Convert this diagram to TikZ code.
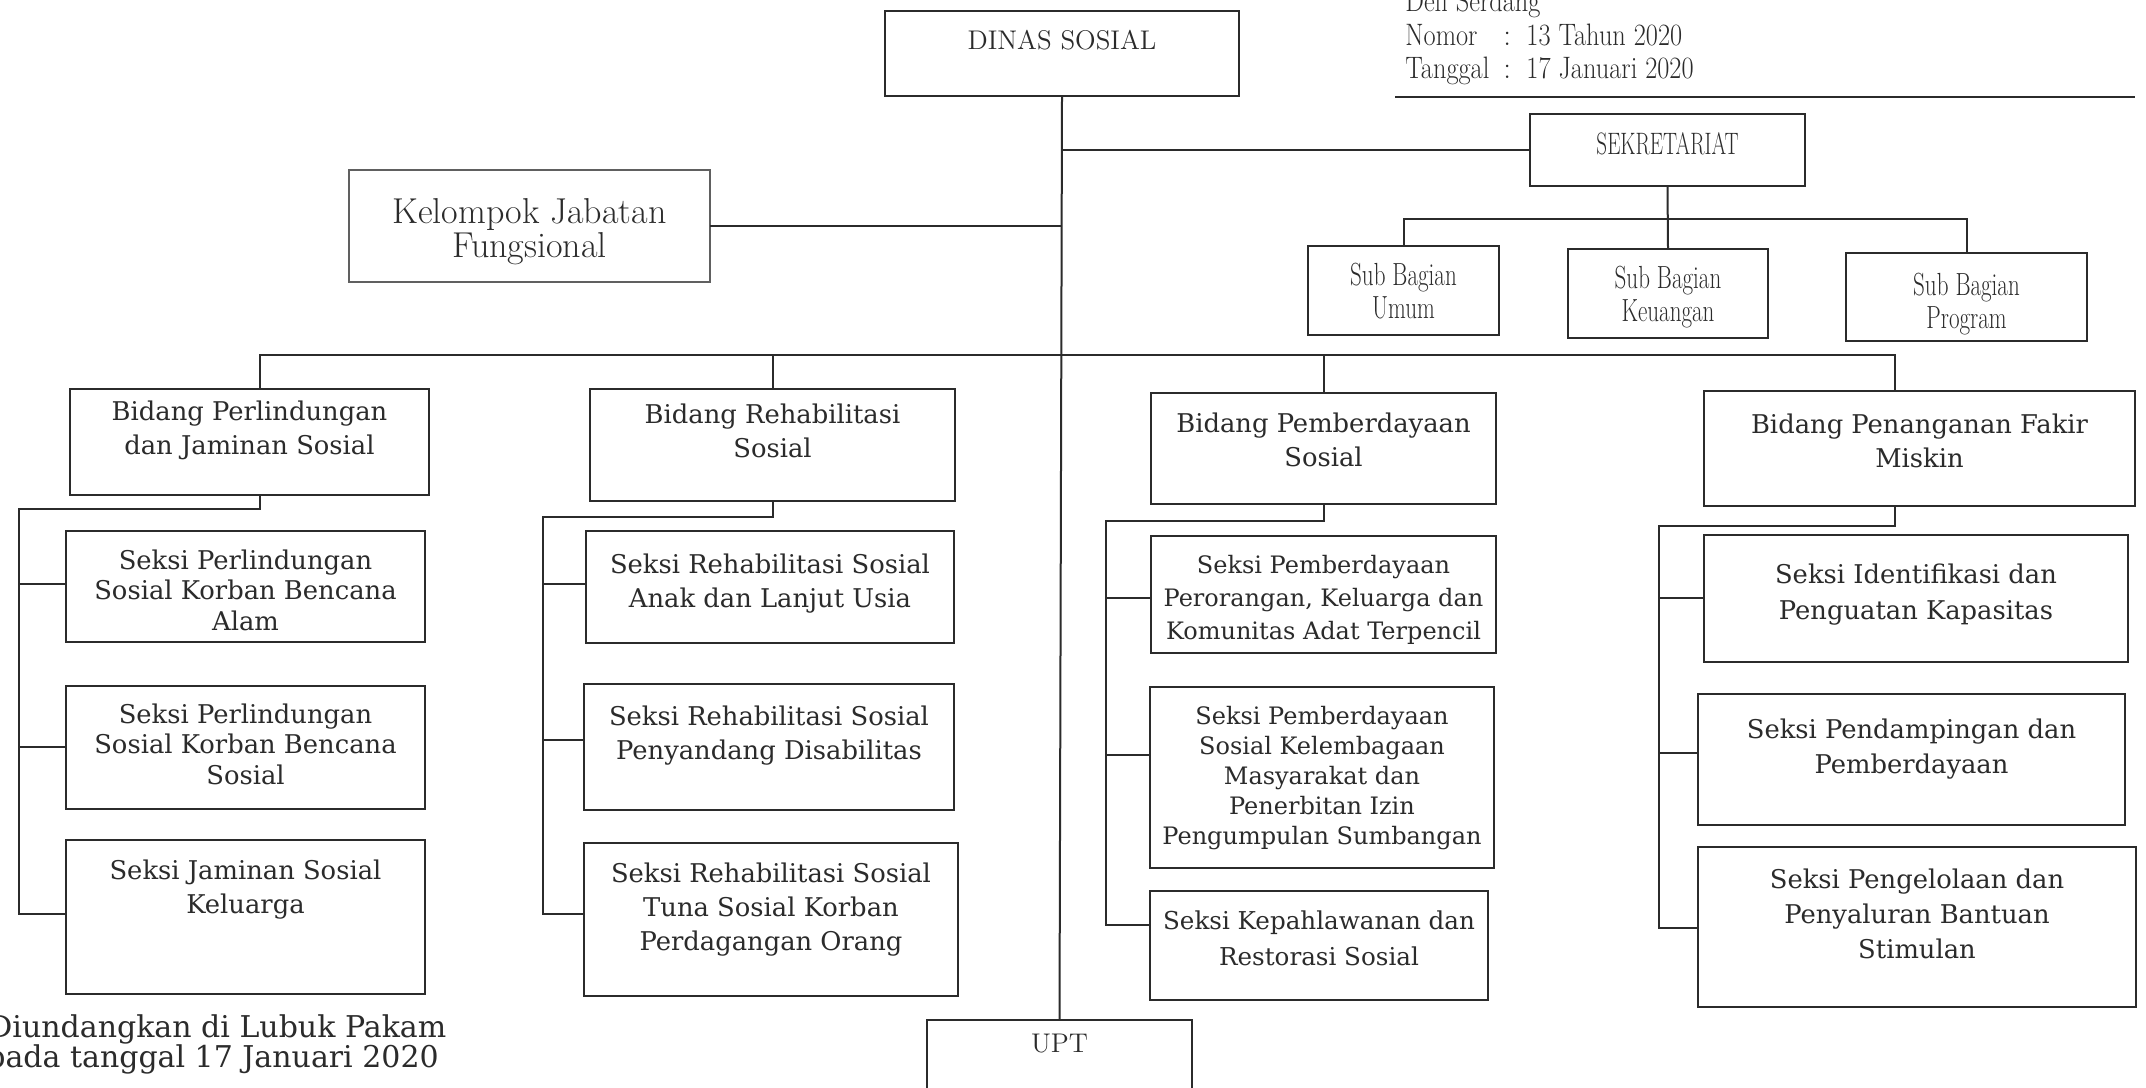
\documentclass[tikz,border=0pt]{standalone}
\usepackage{fontspec}
\usepackage{graphicx}
\newfontfamily\bk{DejaVu Serif}
\definecolor{ink}{HTML}{2B2B2B}
\tikzset{
 box/.style={draw=ink, line width=1.3pt, inner sep=0pt, outer sep=0pt},
 thinbox/.style={box, draw=ink!75, line width=0.8pt},
 ln/.style={draw=ink, line width=1pt},
 bktxt/.style={text=ink, align=center, inner sep=0pt, font=\bk\fontsize{12.9}{17}\selectfont},
 bksm/.style={bktxt, font=\bk\fontsize{12}{16.5}\selectfont},
 cetxt/.style={text=ink, align=center, inner sep=0pt, font=\fontsize{14}{17}\selectfont},
}
\newcommand\nr[1]{\scalebox{0.72}[1]{#1}}
\newcommand\hd[1]{\scalebox{0.85}[1]{#1}}
\newcommand\bx[9][bktxt]{%
  \pgfmathsetmacro\bw{(#5-#3)*0.5}%
  \pgfmathsetmacro\bh{(#6-#4)*0.5}%
  \node[#9, minimum width=\bw pt, minimum height=\bh pt, anchor=north west] (#2) at (#3,#4) {};
  \node[#1, anchor=north] (#2-t) at ([yshift=-#7*0.5pt]#2.north) {#8};
}
\begin{document}
\begin{tikzpicture}[x=0.5pt,y=-0.5pt]
\fill[white] (0,0) rectangle (2146,1087);
\useasboundingbox (0,0) rectangle (2146,1087);

% top boxes
\bx[cetxt, font=\fontsize{13.5}{17}\selectfont]{dinas}{885}{11}{1239}{96}{19}{DINAS SOSIAL}{box}
\bx[cetxt, font=\fontsize{15.5}{17}\selectfont]{sekr}{1530}{114}{1805}{186}{18}{\scalebox{0.68}[1]{SEKRETARIAT}}{box}
\bx[cetxt, font=\fontsize{18}{17}\selectfont]{kjf}{349}{170}{710}{282}{28}{Kelompok Jabatan\\Fungsional}{thinbox}
\bx[cetxt, font=\fontsize{16}{16.5}\selectfont]{umum}{1308}{246}{1499}{335}{17}{\nr{Sub Bagian}\\\nr{Umum}}{box}
\bx[cetxt, font=\fontsize{16}{16.5}\selectfont]{keu}{1568}{249}{1768}{338}{17}{\nr{Sub Bagian}\\\nr{Keuangan}}{box}
\bx[cetxt, font=\fontsize{16}{16.5}\selectfont]{prog}{1846}{253}{2087}{341}{20}{\nr{Sub Bagian}\\\nr{Program}}{box}

% bidang
\bx{b1}{70}{389}{429}{495}{11}{Bidang Perlindungan\\dan Jaminan Sosial}{box}
\bx{b2}{590}{389}{955}{501}{14}{Bidang Rehabilitasi\\Sosial}{box}
\bx{b3}{1151}{393}{1496}{504}{19}{Bidang Pemberdayaan\\Sosial}{box}
\bx{b4}{1704}{391}{2135}{506}{22}{Bidang Penanganan Fakir\\Miskin}{box}

% seksi col 1
\bx[bktxt, font=\bk\fontsize{12.9}{15.3}\selectfont]{s11}{66}{531}{425}{642}{18}{Seksi Perlindungan\\Sosial Korban Bencana\\Alam}{box}
\bx[bktxt, font=\bk\fontsize{12.9}{15.3}\selectfont]{s12}{66}{686}{425}{809}{17}{Seksi Perlindungan\\Sosial Korban Bencana\\Sosial}{box}
\bx{s13}{66}{840}{425}{994}{19}{Seksi Jaminan Sosial\\Keluarga}{box}
% col 2
\bx{s21}{586}{531}{954}{643}{22}{Seksi Rehabilitasi Sosial\\Anak dan Lanjut Usia}{box}
\bx{s22}{584}{684}{954}{810}{21}{Seksi Rehabilitasi Sosial\\Penyandang Disabilitas}{box}
\bx{s23}{584}{843}{958}{996}{19}{Seksi Rehabilitasi Sosial\\Tuna Sosial Korban\\Perdagangan Orang}{box}
% col 3
\bx[bksm]{s31}{1151}{536}{1496}{653}{19}{Seksi Pemberdayaan\\Perorangan, Keluarga dan\\Komunitas Adat Terpencil}{box}
\bx[bksm, font=\bk\fontsize{12}{15}\selectfont]{s32}{1150}{687}{1494}{868}{19}{Seksi Pemberdayaan\\Sosial Kelembagaan\\Masyarakat dan\\Penerbitan Izin\\Pengumpulan Sumbangan}{box}
\bx[bksm, font=\bk\fontsize{12.3}{18}\selectfont]{s33}{1150}{891}{1488}{1000}{19}{Seksi Kepahlawanan dan\\Restorasi Sosial}{box}
% col 4
\bx[bktxt, font=\bk\fontsize{12.9}{18}\selectfont]{s41}{1704}{535}{2128}{662}{28}{Seksi Identifikasi dan\\Penguatan Kapasitas}{box}
\bx[bktxt, font=\bk\fontsize{12.9}{17.5}\selectfont]{s42}{1698}{694}{2125}{825}{24}{Seksi Pendampingan dan\\Pemberdayaan}{box}
\bx[bktxt, font=\bk\fontsize{12.9}{17.5}\selectfont]{s43}{1698}{847}{2136}{1007}{21}{Seksi Pengelolaan dan\\Penyaluran Bantuan\\Stimulan}{box}

% UPT
\bx[cetxt, font=\fontsize{13.5}{15}\selectfont]{upt}{927}{1020}{1192}{1092}{14}{UPT}{box}

% header text top right
\tikzset{hdtxt/.style={cetxt, font=\fontsize{15.5}{17}\selectfont, anchor=base west}}
\node[hdtxt] (deli) at (1405,11) {\hd{Deli Serdang}};
\node[hdtxt] (nomor) at (1405,45) {\hd{Nomor}};
\node[hdtxt] (nomc) at (1503,45) {:};
\node[hdtxt] (nomv) at (1526,45) {\hd{13 Tahun 2020}};
\node[hdtxt] (tgl) at (1405,78) {\hd{Tanggal}};
\node[hdtxt] (tglc) at (1503,78) {:};
\node[hdtxt] (tglv) at (1526,78) {\hd{17 Januari 2020}};
\coordinate (rulea) at (1395,97);
\coordinate (ruleb) at (2135,97);
\draw[ln] (rulea) -- (ruleb);

% bottom-left text
\node[bktxt, font=\bk\fontsize{15}{17}\selectfont, anchor=base west] (und1) at (-12,1037) {Diundangkan di Lubuk Pakam};
\node[bktxt, font=\bk\fontsize{15}{17}\selectfont, anchor=base west] (und2) at (-14,1067) {pada tanggal 17 Januari 2020};

% connectors
\draw[ln] (dinas.south) -- (upt.north);
\draw[ln] (sekr.west) -- (sekr.west -| dinas.south);
\draw[ln] (kjf.east) -- (kjf.east -| dinas.south);
\draw[ln] (sekr.south) -- (keu.north);
\coordinate (sbar) at (1400,219);
\draw[ln] (umum.north) -- (umum.north |- sbar) -- (prog.north |- sbar) -- (prog.north);

\coordinate (bbar) at (1000,355);
\coordinate (b1in) at (260,389);
\coordinate (b1out) at (260,495);
\coordinate (b4in) at (1895,391);
\coordinate (b4out) at (1895,506);
\draw[ln] (b1in) -- (b1in |- bbar) -- (b4in |- bbar) -- (b4in);
\draw[ln] (b2.north) -- (b2.north |- bbar);
\draw[ln] (b3.north) -- (b3.north |- bbar);

% column brackets
\coordinate (c1) at (19,509);
\coordinate (c2) at (543,517);
\coordinate (c3) at (1106,521);
\coordinate (c4) at (1659,526);
\coordinate (t11) at (19,584);
\coordinate (t12) at (19,747);
\coordinate (t13) at (19,914);
\coordinate (t21) at (543,584);
\coordinate (t22) at (543,740);
\coordinate (t23) at (543,914);
\coordinate (t31) at (1106,598);
\coordinate (t32) at (1106,755);
\coordinate (t33) at (1106,925);
\coordinate (t41) at (1659,598);
\coordinate (t42) at (1659,753);
\coordinate (t43) at (1659,928);

\draw[ln] (b1out) |- (c1) -- (t13) -- (t13 -| s13.west);
\draw[ln] (t11) -- (t11 -| s11.west);
\draw[ln] (t12) -- (t12 -| s12.west);
\draw[ln] (b2.south) |- (c2) -- (t23) -- (t23 -| s23.west);
\draw[ln] (t21) -- (t21 -| s21.west);
\draw[ln] (t22) -- (t22 -| s22.west);
\draw[ln] (b3.south) |- (c3) -- (t33) -- (t33 -| s33.west);
\draw[ln] (t31) -- (t31 -| s31.west);
\draw[ln] (t32) -- (t32 -| s32.west);
\draw[ln] (b4out) |- (c4) -- (t43) -- (t43 -| s43.west);
\draw[ln] (t41) -- (t41 -| s41.west);
\draw[ln] (t42) -- (t42 -| s42.west);
\end{tikzpicture}
\end{document}
